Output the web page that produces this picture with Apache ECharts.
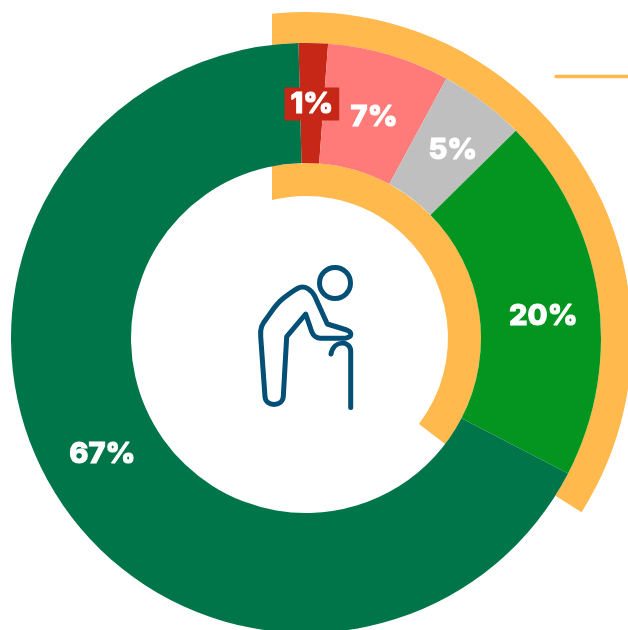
<!DOCTYPE html>
<html>
<head>
<meta charset="utf-8">
<title>chart</title>
<style>
  html, body { margin: 0; padding: 0; background: #fff; }
  #main { width: 628px; height: 630px; }
</style>
</head>
<body>
<div id="main"></div>
<script src="https://cdn.jsdelivr.net/npm/echarts@6/dist/echarts.min.js"></script>
<script>
// slices, clockwise from the top seam. sweep, it does not follow the printed label exactly
var sliceLabels = ["1%", "7%", "5%", "20%", "67%"];
var sliceSweep = [1.6, 6.7, 4.7, 20.0, 67.0];
var sliceColors = ["#C62716", "#FF7B7A", "#BFBFBF", "#03951F", "#00754A"];

// yellow brackets: [arc, rest] in degrees
var outerArc = [130.3, 229.7];
var innerArc = [143.3, 216.7];

var yellow = "#FFB94D";
var iconColor = "#034F75";

var cx = 306, cy = 338;

var bodyPath = "M265 396.7 L260.7 336.7 C260 328 262 324 266.7 318.3 C272 311 276 304 283.3 298.3 " +
  "C290 293 295 289 300 287.3 C305 286 311 289 315 296.7 L327.3 324 L346.7 330 " +
  "C352 332 353 337 345 338.3 L320 338.3 C315 338 313 335 311.7 331.7 L305.7 314 " +
  "L286.7 336.7 L283.3 396.7 C282.5 407 265.5 407 265 396.7 Z";
var canePath = "M350.7 407.5 L350.7 351 C350.7 341 334 339 331 354";

// label nudges from the middle of each slice
var labelNudge = [[0, 4], [1, 8], [4, 3], [2, 14], [-2, -10]];

function arcSeries(values, radius, startAngle) {
  return {
    type: "pie",
    silent: true,
    z: 1,
    center: [cx, cy],
    radius: radius,
    startAngle: startAngle,
    clockwise: true,
    animation: false,
    label: { show: false },
    labelLine: { show: false },
    data: [
      { value: values[0], itemStyle: { color: yellow } },
      { value: values[1], itemStyle: { color: "transparent" } }
    ]
  };
}

var myChart = echarts.init(document.getElementById("main"), null, { renderer: "canvas" });

myChart.setOption({
  animation: false,
  backgroundColor: "#fff",
  graphic: [
    {
      type: "line",
      shape: { x1: 556, y1: 76.5, x2: 640, y2: 76.5 },
      style: { stroke: yellow, lineWidth: 3.5, lineCap: "round" }
    },
    // white masks give the yellow arcs their straight vertical ends
    { type: "rect", z: 2, shape: { x: 240, y: 0, width: 32, height: 60 }, style: { fill: "#fff" } },
    { type: "rect", z: 2, shape: { x: 240, y: 150, width: 32, height: 60 }, style: { fill: "#fff" } }
  ],
  series: [
    arcSeries(outerArc, [295, 326], 98),
    arcSeries(innerArc, [142, 175], 106),
    {
      type: "pie",
      z: 3,
      center: [cx, cy],
      radius: [175, 295],
      startAngle: 91.46,
      clockwise: true,
      label: {
        show: true,
        position: "inside",
        color: "#fff",
        fontFamily: "Inter",
        fontWeight: 800,
        fontSize: 29,
        textBorderColor: "#fff",
        textBorderWidth: 1,
        formatter: function (p) { return sliceLabels[p.dataIndex]; }
      },
      labelLine: { show: false },
      labelLayout: function (p) {
        return { dx: labelNudge[p.dataIndex][0], dy: labelNudge[p.dataIndex][1] };
      },
      data: sliceSweep.map(function (v, i) {
        var item = { value: v, name: sliceLabels[i], itemStyle: { color: sliceColors[i] } };
        if (i === 0) {
          item.label = { backgroundColor: sliceColors[0], padding: [2, 6, 2, 6] };
        }
        return item;
      })
    },
    {
      type: "custom",
      coordinateSystem: "none",
      z: 4,
      silent: true,
      clip: false,
      data: [0],
      renderItem: function () {
        var line = { fill: "none", stroke: iconColor, lineWidth: 5, lineCap: "round", lineJoin: "round" };
        return {
          type: "group",
          children: [
            { type: "circle", shape: { cx: 335, cy: 283, r: 15.5 }, style: line },
            { type: "path", shape: { pathData: bodyPath }, style: line },
            { type: "path", shape: { pathData: canePath }, style: line }
          ]
        };
      }
    }
  ]
});
</script>
</body>
</html>
